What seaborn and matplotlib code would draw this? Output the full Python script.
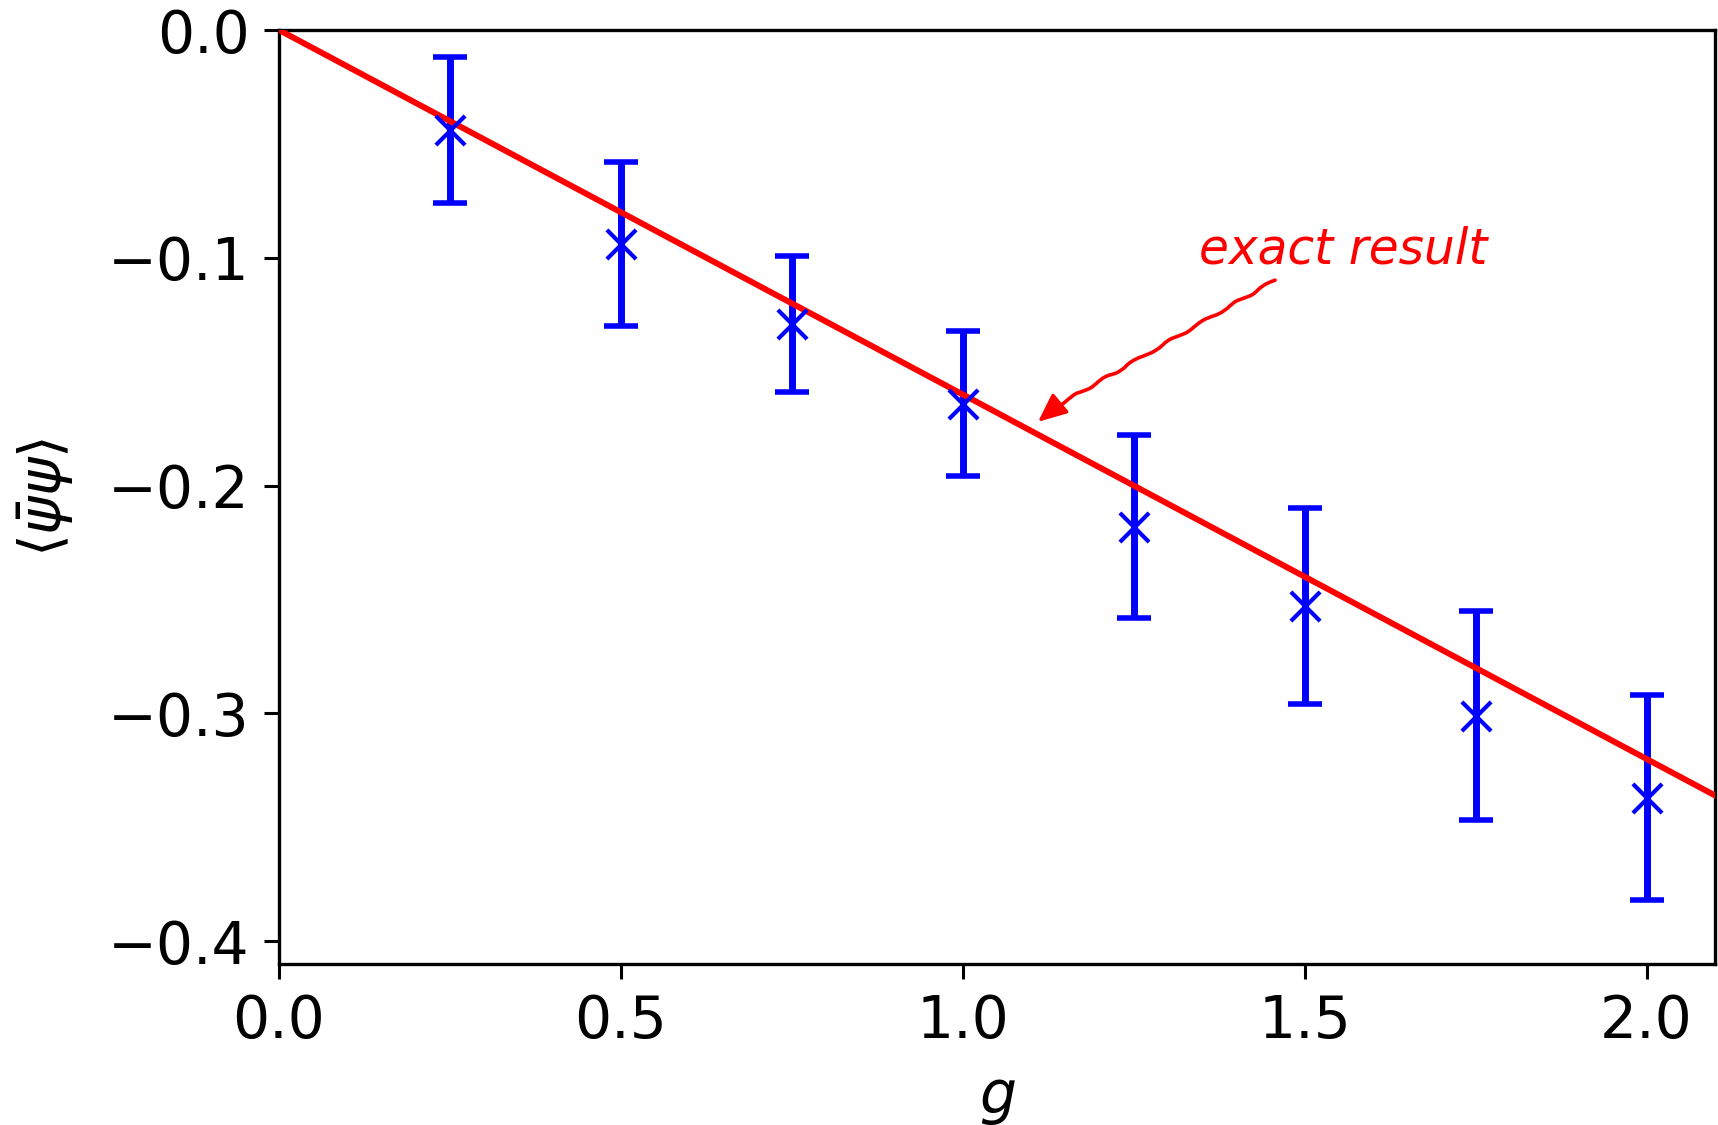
import matplotlib
matplotlib.use("Agg")
import matplotlib.pyplot as plt
import seaborn as sns
import numpy as np
import pandas as pd

# data
g_vals = [0.25, 0.5, 0.75, 1.0, 1.25, 1.5, 1.75, 2.0]
psi_vals = [-0.044, -0.094, -0.129, -0.164, -0.218, -0.253, -0.301, -0.337]
psi_err = [0.032, 0.036, 0.030, 0.032, 0.040, 0.043, 0.046, 0.045]
exact_g = [0.0, 2.2]
exact_y = [0.0, -0.352]
xticks = [0.0, 0.5, 1.0, 1.5, 2.0]
yticks = [0.0, -0.1, -0.2, -0.3, -0.4]

sns.set_theme(style="ticks")
plt.rcParams['font.family'] = ['DejaVu Sans']
plt.rcParams['mathtext.fontset'] = 'dejavusans'

fig = plt.figure(figsize=(17.18, 11.25), dpi=100)
ax = fig.add_axes([279/1718, 1 - 964/1125, (1715-279)/1718, (964-30)/1125])

df_exact = pd.DataFrame({"g": exact_g, "y": exact_y})
sns.lineplot(data=df_exact, x="g", y="y", ax=ax, color="red", linewidth=4.3, zorder=3)

ax.errorbar(g_vals, psi_vals, yerr=psi_err, fmt="none", ecolor="blue",
            elinewidth=5.0, capsize=12.5, capthick=4.0, zorder=2)
df = pd.DataFrame({"g": g_vals, "psi": psi_vals})
sns.scatterplot(data=df, x="g", y="psi", ax=ax, marker="x", color="blue",
                s=21**2, linewidth=3.0, zorder=4)

ax.set_xlim(0, 2.1)
ax.set_ylim(-0.41, 0.0)
ax.set_xticks(xticks)
ax.set_yticks(yticks)
ax.set_xticklabels([f"{t:.1f}" for t in xticks])
ax.set_yticklabels([f"{t:.1f}".replace("-", "\u2212") for t in yticks])
for s in ax.spines.values():
    s.set_visible(True)
    s.set_linewidth(2.4)
    s.set_color("black")
ax.tick_params(axis="both", labelsize=42, length=11, width=2.2, color="black",
               labelcolor="black", pad=10)
ax.set_xlabel(r"$g$", fontsize=42, color="black", labelpad=14)
ax.set_ylabel(r"$\langle\bar{\psi}\psi\rangle$", fontsize=42, color="black", labelpad=24)

ax.text(1.556, -0.0963, "exact result", fontsize=35, style="italic", color="red",
        ha="center", va="center")
wig = ax.annotate("", xy=(1.135, -0.1655), xytext=(1.4566, -0.1098),
                  arrowprops=dict(arrowstyle="-", color="red", lw=2.6,
                                  shrinkA=0, shrinkB=0))
wig.arrow_patch.set_sketch_params(scale=1.2, length=40, randomness=2)
ax.annotate("", xy=(1.110, -0.172), xytext=(1.14, -0.1645),
            arrowprops=dict(arrowstyle="-|>,head_length=0.5,head_width=0.22",
                            color="red", lw=2.4, shrinkA=0, shrinkB=0,
                            mutation_scale=35))

fig.savefig("out.png", dpi=100)
